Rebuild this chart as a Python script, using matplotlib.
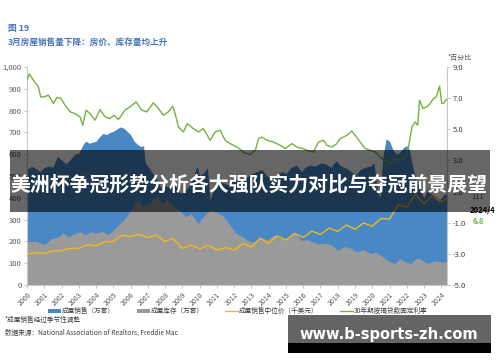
import numpy as np
import matplotlib
matplotlib.use('Agg')
import matplotlib.pyplot as plt
from matplotlib.patches import Rectangle
from matplotlib.lines import Line2D
from matplotlib.ticker import FuncFormatter

plt.rcParams['font.family'] = ['Noto Sans CJK SC', 'DejaVu Sans']

# existing home sales (万套), blue area, left axis
sales_t = [2000.0, 2000.25, 2000.5, 2000.75, 2001.0, 2001.25, 2001.5, 2001.75, 2002.0, 2002.25,
           2002.5, 2002.75, 2003.0, 2003.25, 2003.4, 2003.6, 2003.8, 2004.0, 2004.2, 2004.4,
           2004.6, 2004.8, 2005.0, 2005.2, 2005.4, 2005.6, 2005.8, 2006.0, 2006.2, 2006.4,
           2006.6, 2006.75, 2006.85, 2007.0, 2007.2, 2007.4, 2007.6, 2007.8, 2008.0, 2008.3,
           2008.6, 2008.9, 2009.1, 2009.4, 2009.6, 2009.85, 2010.0, 2010.3, 2010.45, 2010.6,
           2010.8, 2011.0, 2011.3, 2011.6, 2011.9, 2012.2, 2012.5, 2012.8, 2013.0, 2013.3,
           2013.6, 2013.9, 2014.2, 2014.5, 2014.8, 2015.0, 2015.3, 2015.6, 2015.9, 2016.1,
           2016.4, 2016.7, 2017.0, 2017.3, 2017.6, 2017.9, 2018.2, 2018.5, 2018.8, 2019.0,
           2019.3, 2019.6, 2019.9, 2020.1, 2020.3, 2020.45, 2020.6, 2020.8, 2021.0, 2021.2,
           2021.4, 2021.6, 2021.8, 2022.0, 2022.15, 2022.4, 2022.6, 2022.8, 2023.0, 2023.2,
           2023.4, 2023.6, 2023.8, 2024.0, 2024.2, 2024.33]
sales_v = [530, 545, 535, 520, 540, 545, 540, 590, 575, 555,
           575, 600, 605, 645, 660, 650, 655, 660, 680, 695,
           690, 700, 705, 715, 725, 720, 705, 690, 660, 645,
           635, 640, 560, 545, 520, 500, 470, 440, 455, 450,
           455, 420, 430, 455, 490, 545, 500, 520, 540, 390,
           440, 480, 470, 460, 475, 490, 475, 500, 510, 520,
           530, 500, 480, 510, 520, 510, 540, 550, 520, 540,
           550, 545, 560, 555, 540, 570, 545, 535, 520, 500,
           530, 540, 545, 560, 430, 400, 580, 670, 660, 620,
           600, 610, 630, 640, 620, 520, 470, 430, 400, 440,
           420, 400, 385, 400, 420, 410]

# inventory (万套), gray area, left axis
inv_t = [2000.0, 2000.5, 2001.0, 2001.4, 2001.8, 2002.1, 2002.4, 2002.8, 2003.1, 2003.4,
         2003.7, 2004.0, 2004.4, 2004.7, 2005.0, 2005.3, 2005.6, 2005.9, 2006.2, 2006.4,
         2006.7, 2007.0, 2007.3, 2007.55, 2007.8, 2008.1, 2008.5, 2008.8, 2009.2, 2009.5,
         2009.9, 2010.2, 2010.6, 2011.0, 2011.4, 2011.7, 2012.1, 2012.5, 2012.9, 2013.2,
         2013.5, 2013.9, 2014.3, 2014.7, 2015.1, 2015.5, 2015.9, 2016.2, 2016.5, 2016.9,
         2017.3, 2017.6, 2018.0, 2018.4, 2018.8, 2019.1, 2019.5, 2019.9, 2020.2, 2020.6,
         2021.0, 2021.3, 2021.6, 2021.9, 2022.2, 2022.6, 2022.9, 2023.2, 2023.6, 2023.9,
         2024.1, 2024.33]
inv_v = [198, 200, 185, 212, 220, 238, 222, 238, 244, 230,
         244, 238, 246, 230, 252, 275, 298, 330, 360, 390,
         360, 370, 390, 405, 375, 390, 360, 345, 313, 328,
         282, 313, 343, 335, 313, 282, 237, 221, 198, 200,
         221, 206, 229, 213, 215, 237, 205, 208, 200, 188,
         192, 185, 160, 176, 168, 152, 162, 145, 152, 130,
         105, 99, 122, 107, 98, 125, 114, 99, 110, 108,
         104, 111]

# median sale price (千美元), yellow line, left axis
price_t = [2000.0, 2000.5, 2001.0, 2001.5, 2002.0, 2002.5, 2003.0, 2003.5, 2004.0, 2004.5,
           2005.0, 2005.5, 2006.0, 2006.5, 2007.0, 2007.5, 2008.0, 2008.45, 2009.0, 2009.5,
           2010.0, 2010.5, 2011.0, 2011.5, 2012.0, 2012.5, 2013.0, 2013.5, 2014.0, 2014.5,
           2015.0, 2015.5, 2016.0, 2016.5, 2017.0, 2017.5, 2018.0, 2018.5, 2019.0, 2019.5,
           2020.0, 2020.5, 2021.0, 2021.5, 2022.0, 2022.5, 2023.0, 2023.5, 2024.0, 2024.3]
price_v = [142, 148, 145, 156, 158, 168, 168, 184, 180, 198,
           200, 229, 222, 232, 218, 229, 200, 214, 168, 183,
           166, 182, 160, 172, 160, 191, 174, 214, 192, 225,
           206, 237, 218, 247, 232, 261, 246, 275, 256, 284,
           270, 304, 303, 367, 358, 415, 372, 413, 382, 397]

# 30y fixed mortgage rate (%), green line, right axis
rate_t = [2000.0, 2000.13, 2000.37, 2000.66, 2000.79, 2000.99, 2001.24, 2001.53, 2001.72, 2001.95,
          2002.2, 2002.5, 2002.78, 2003.07, 2003.23, 2003.42, 2003.65, 2003.94, 2004.23, 2004.52,
          2004.81, 2005.04, 2005.3, 2005.68, 2005.97, 2006.32, 2006.65, 2006.94, 2007.32, 2007.61,
          2007.9, 2008.19, 2008.44, 2008.58, 2008.77, 2009.06, 2009.29, 2009.64, 2009.93, 2010.22,
          2010.61, 2010.9, 2011.19, 2011.48, 2011.77, 2012.16, 2012.64, 2012.93, 2013.23, 2013.41,
          2013.61, 2013.9, 2014.28, 2014.67, 2014.96, 2015.35, 2015.63, 2016.0, 2016.21, 2016.6,
          2016.89, 2017.18, 2017.37, 2017.66, 2017.95, 2018.14, 2018.53, 2018.82, 2019.01, 2019.3,
          2019.59, 2019.88, 2020.17, 2020.46, 2020.75, 2021.04, 2021.33, 2021.62, 2021.91, 2022.1,
          2022.3, 2022.49, 2022.63, 2022.74, 2022.94, 2023.17, 2023.36, 2023.55, 2023.71, 2023.9,
          2024.03, 2024.13, 2024.3]
rate_v = [8.16, 8.55, 8.16, 7.73, 7.08, 7.08, 7.19, 6.66, 7.04, 7.0,
          6.55, 6.12, 6.01, 5.8, 5.26, 6.23, 6.01, 5.58, 6.27, 5.8,
          5.69, 5.9, 5.63, 6.23, 6.44, 6.76, 6.23, 6.12, 6.7, 6.34,
          5.9, 6.12, 6.48, 6.01, 5.15, 4.83, 5.37, 5.04, 4.83, 5.04,
          4.29, 4.83, 4.94, 4.29, 4.08, 3.86, 3.47, 3.39, 3.65, 4.4,
          4.5, 4.29, 4.18, 3.97, 3.76, 4.08, 3.86, 3.76, 3.65, 3.54,
          4.18, 4.29, 3.97, 3.86, 4.08, 4.4, 4.61, 4.89, 4.61, 4.18,
          3.76, 3.65, 3.54, 3.21, 3.0, 2.79, 3.11, 3.0, 3.21, 3.86,
          5.15, 5.47, 5.26, 6.87, 6.34, 6.44, 6.66, 6.98, 7.08, 7.77,
          6.66, 6.66, 6.92]

years = list(range(2000, 2025))
left_ticks = list(range(0, 1001, 100))
right_ticks = [-5, -3, -1, 1, 3, 5, 7, 9]

legend_labels = ['成屋销售（万套）', '成屋库存（万套）', '成屋销售中位价（千美元）', '30年期按揭贷款固定利率']

blue = '#4a87c5'
gray = '#9a9a9a'
yellow = '#f2b91c'
green = '#78b041'
title_blue = '#4a74b8'
axis_col = '#c8c8c8'

W, H = 500, 362
def fx(px):
    return px / W
def fy(py):
    return 1 - py / H

fig = plt.figure(figsize=(5, 3.62), dpi=100)
ax = fig.add_axes([fx(27), fy(285), 420 / W, 218 / H])

ax.fill_between(sales_t, 0, sales_v, color=blue, linewidth=0, zorder=1)
ax.fill_between(inv_t, 0, inv_v, color=gray, linewidth=0, zorder=2)
ax.plot(price_t, price_v, color=yellow, lw=1.0, zorder=3)
ax.set_xlim(2000, 2024.33)
ax.set_ylim(0, 1000)
ax.set_yticks(left_ticks)
ax.yaxis.set_major_formatter(FuncFormatter(lambda v, p: f'{int(v):,}'))
ax.set_xticks(years)
ax.set_xticklabels([str(y) for y in years], rotation=45, ha='right', rotation_mode='anchor')
ax.tick_params(axis='y', labelsize=5.5, labelcolor='#595959', length=2, color=axis_col, pad=2)
ax.tick_params(axis='x', labelsize=5, labelcolor='#595959', length=2, color=axis_col, pad=2)
for s in ['top', 'right']:
    ax.spines[s].set_visible(False)
for s in ['left', 'bottom']:
    ax.spines[s].set_color(axis_col)
    ax.spines[s].set_linewidth(0.8)

ax2 = ax.twinx()
ax2.plot(rate_t, rate_v, color=green, lw=1.0)
ax2.set_ylim(-5, 9)
ax2.set_yticks(right_ticks)
ax2.yaxis.set_major_formatter(FuncFormatter(lambda v, p: f'{v:.1f}'))
ax2.tick_params(axis='y', labelsize=5.5, labelcolor='#404040', length=2, color=axis_col, pad=2)
for s in ['top', 'left', 'bottom']:
    ax2.spines[s].set_visible(False)
ax2.spines['right'].set_color(axis_col)
ax2.spines['right'].set_linewidth(0.8)

# titles
fig.text(fx(8), fy(28), '图 19', fontsize=6.3, color=title_blue, fontweight='bold', va='center')
fig.text(fx(8), fy(42), '3月房屋销售量下降：房价、库存量均上升', fontsize=6.2, color=title_blue,
         fontweight='bold', va='center')
fig.text(fx(472), fy(58), '*百分比', fontsize=5, color='#595959', ha='right', va='center')

# end labels on the right
fig.text(fx(478), fy(197), '111', fontsize=5.5, color='#595959', ha='center', va='center')
fig.text(fx(482), fy(210), '2024/4', fontsize=5.5, color='black', fontweight='bold', ha='center', va='center')
fig.text(fx(478), fy(222), '6.8', fontsize=5.5, color=green, fontweight='bold', ha='center', va='center')

# legend
leg_y = 311
fig.add_artist(Rectangle((fx(48), fy(leg_y + 2)), 13 / W, 4 / H, transform=fig.transFigure,
                         color=blue, lw=0))
fig.add_artist(Rectangle((fx(137), fy(leg_y + 2)), 13 / W, 4 / H, transform=fig.transFigure,
                         color=gray, lw=0))
fig.add_artist(Line2D([fx(225), fx(238)], [fy(leg_y), fy(leg_y)], transform=fig.transFigure,
                      color=yellow, lw=1.0))
fig.add_artist(Line2D([fx(340), fx(353)], [fy(leg_y), fy(leg_y)], transform=fig.transFigure,
                      color=green, lw=1.0))
for lx, lab in zip([62, 151, 239, 354], legend_labels):
    fig.text(fx(lx), fy(leg_y), lab, fontsize=4.8, color='#404040', va='center')

fig.text(fx(5), fy(320), '*成屋销售经过季节性调整', fontsize=4.8, color='#404040', va='center')
fig.text(fx(5), fy(333), '数据来源：National Association of Realtors, Freddie Mac', fontsize=4.8,
         color='#404040', va='center')

# overlay banner
fig.add_artist(Rectangle((fx(10), fy(212)), 480 / W, 62 / H, transform=fig.transFigure,
                         color='black', alpha=0.6, lw=0, zorder=10))
fig.text(fx(249), fy(184), '美洲杯争冠形势分析各大强队实力对比与夺冠前景展望', fontsize=14.3,
         color='white', fontweight='bold', ha='center', va='center', zorder=11)

# watermark box
fig.add_artist(Rectangle((fx(288), fy(343)), 203 / W, 28 / H, transform=fig.transFigure,
                         color='#646464', lw=0, zorder=10))
fig.add_artist(Rectangle((fx(288), fy(353)), 203 / W, 10 / H, transform=fig.transFigure,
                         color='black', lw=0, zorder=10))
fig.text(fx(389), fy(335), 'www.b-sports-zh.com', fontsize=10.5, color='white', fontweight='bold',
         family='DejaVu Sans', ha='center', va='center', zorder=11)

fig.savefig('out.png', dpi=100)
